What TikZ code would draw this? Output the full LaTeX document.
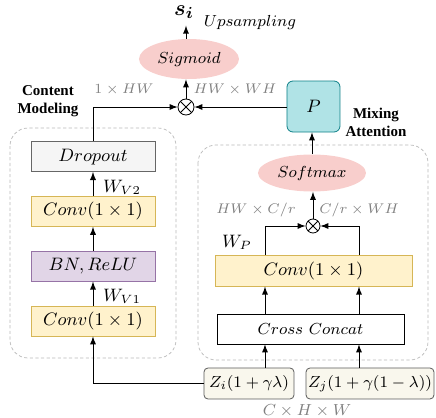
\documentclass[tikz,border=0pt]{standalone}
\usepackage{amsmath,amssymb}
\usepackage{fontspec}
\newfontfamily\headfont{Liberation Serif}
\usepackage{tikz}
\usetikzlibrary{positioning,shapes.geometric}
\definecolor{convfill}{HTML}{FFF2CC}
\definecolor{convline}{HTML}{D6B656}
\definecolor{bnfill}{HTML}{E1D5E7}
\definecolor{bnline}{HTML}{9673A6}
\definecolor{dropfill}{HTML}{F5F5F5}
\definecolor{dropline}{HTML}{666666}
\definecolor{pfill}{HTML}{B0E3E6}
\definecolor{pline}{HTML}{0E8088}
\definecolor{actfill}{HTML}{F8CECC}
\definecolor{zfill}{HTML}{F9F7ED}
\definecolor{zline}{HTML}{5A5A5A}
\definecolor{dimtext}{HTML}{808080}
\tikzset{>=latex}

\begin{document}
\begin{tikzpicture}[x=0.5pt,y=-0.5pt,
    blk/.style={draw, minimum height=15pt, inner sep=1pt,
      font=\fontsize{9.5}{11}\selectfont},
    convbox/.style={blk, fill=convfill, draw=convline, minimum width=62pt},
    bnbox/.style={blk, fill=bnfill, draw=bnline, minimum width=62pt},
    dropbox/.style={blk, fill=dropfill, draw=dropline, minimum width=62pt},
    act/.style={ellipse, fill=actfill, inner sep=0pt,
      font=\fontsize{8.5}{10}\selectfont},
    zbox/.style={draw=zline, fill=zfill, rounded corners=2pt,
      minimum height=15.5pt, inner sep=1pt, font=\fontsize{8.5}{10}\selectfont},
    mult/.style={circle, draw, minimum size=#1, inner sep=0pt,
      path picture={\draw (path picture bounding box.north west)
        -- (path picture bounding box.south east)
        (path picture bounding box.south west)
        -- (path picture bounding box.north east);}},
    dimlbl/.style={text=dimtext, font=\fontsize{6.8}{8}\selectfont},
    wlbl/.style={font=\fontsize{9}{10}\selectfont},
    headlbl/.style={align=center, font=\headfont\bfseries\fontsize{7.5}{9}\selectfont},
    group/.style={draw=black!28, dash pattern=on 1.6pt off 1.2pt,
      rounded corners=9pt, line width=0.35pt}]

  \useasboundingbox (0,0) rectangle (436,418);

  % Groups
  \draw[group] (10,128) rectangle (176,358);
  \draw[group] (198,145) rectangle (428,360);

  % Content modeling branch
  \node[convbox]                   (conva) at (93,321) {$Conv(1\times 1)$};
  \node[bnbox, above=12pt of conva]   (bn)    {$BN, ReLU$};
  \node[convbox, above=12pt of bn]    (convb) {$Conv(1\times 1)$};
  \node[dropbox, above=12pt of convb] (drop)  {$Dropout$};
  \node[wlbl] (wv1) at (122,296) {$W_{V1}$};
  \node[wlbl] (wv2) at (122,187) {$W_{V2}$};
  \node[headlbl] (cmod) at (48,101) {Content\\Modeling};

  % Mixing attention branch
  \coordinate (lx) at (265,0);
  \coordinate (rx) at (359,0);
  \node[blk, minimum width=93.5pt, fill=white, font=\fontsize{8.3}{10}\selectfont]
    (cross) at (310.5,329) {$Cross\ Concat$};
  \node[convbox, minimum width=98.5pt, minimum height=15.5pt,
    above=13.5pt of cross, xshift=1.5pt] (convc) {$Conv(1\times 1)$};
  \node[mult=7pt] (mulb) at (313,226) {};
  \node[act, minimum width=54pt, minimum height=18.5pt] (soft) at (312,173) {$Softmax$};
  \node[draw=pline, fill=pfill, rounded corners=3pt, minimum width=26.5pt,
    minimum height=25.5pt, font=\fontsize{9}{10}\selectfont] (pbox) at (313.5,106.5) {$P$};
  \node[wlbl] (wp) at (237,242) {$W_P$};
  \node[dimlbl] (hwcr) at (256,210) {$HW\times C/r$};
  \node[dimlbl] (crwh) at (359,210) {$C/r\times WH$};
  \node[headlbl] (matt) at (376,122) {Mixing\\Attention};

  % Output
  \node[mult=8pt] (mula) at (186,107) {};
  \node[act, minimum width=50pt, minimum height=20pt] (sig) at (189,59) {$Sigmoid$};
  \node[font=\fontsize{11}{12}\selectfont] (si) at (184,12) {$\boldsymbol{s}_{\boldsymbol{i}}$};
  \node[font=\fontsize{8.5}{10}\selectfont] (ups) at (250,22) {$Upsampling$};
  \node[dimlbl] (onehw) at (124,90) {$1\times HW$};
  \node[dimlbl] (hwwh) at (235,90) {$HW\times WH$};

  % Inputs
  \node[zbox, minimum width=45pt] (zi) at (249,383.5) {$Z_i(1+\gamma\lambda)$};
  \node[zbox, minimum width=62pt] (zj) at (370,383.5) {$Z_j(1+\gamma(1-\lambda))$};
  \node[text=dimtext, font=\fontsize{8.5}{10}\selectfont] (chw) at (307,411) {$C\times H\times W$};

  % Edges
  \draw[->] (zi.west) -| (conva.south);
  \draw[->] (conva) -- (bn);
  \draw[->] (bn) -- (convb);
  \draw[->] (convb) -- (drop);
  \draw[->] (drop.north) |- (mula.west);
  \draw[->] (zi.north -| lx) -- (cross.south -| lx);
  \draw[->] (zj.north -| rx) -- (cross.south -| rx);
  \draw[->] (cross.north -| lx) -- (convc.south -| lx);
  \draw[->] (cross.north -| rx) -- (convc.south -| rx);
  \draw[->] (convc.north -| lx) |- (mulb.west);
  \draw[->] (convc.north -| rx) |- (mulb.east);
  \draw[->] (mulb.north) -- (mulb |- soft.south);
  \draw[->] (soft.north) -- (soft.north |- pbox.south);
  \draw[->] (pbox.west |- mula) -- (mula.east);
  \draw[->] (mula.north) -- (mula |- sig.south);
  \draw[->] (mula |- sig.north) -- (mula |- si.south);

\end{tikzpicture}
\end{document}
